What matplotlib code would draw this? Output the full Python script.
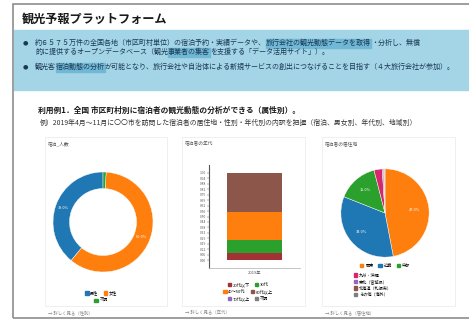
import matplotlib
matplotlib.use("Agg")
import matplotlib.pyplot as plt
from matplotlib.patches import Rectangle, Patch
import numpy as np

plt.rcParams['font.family'] = ['Noto Sans CJK JP', 'DejaVu Sans']

# ---------------- data ----------------
title = "観光予報プラットフォーム"
bullet1_line1 = [("約６５７５万件の全国各地（市区町村単位）の宿泊予約・実績データや、", False),
                 ("旅行会社の観光動態データを取得", True),
                 ("・分析し、無償", False)]
bullet1_line2 = [("的に提供するオープンデータベース（観光", False),
                 ("事業者の集客", True),
                 ("を支援する「データ活用サイト」）。", False)]
bullet2_line = [("観光客", False),
                ("宿泊動態の分析", True),
                ("が可能となり、旅行会社や自治体による新規サービスの創出につなげることを目指す（４大旅行会社が参加）。", False)]
heading = "利用例1．全国 市区町村別に宿泊者の観光動態の分析ができる（属性別）。"
subtitle = "例）2019年4月～11月に〇〇市を訪問した宿泊者の居住地・性別・年代別の内訳を把握（宿泊、男女別、年代別、地域別）"

panel_titles = ["宿泊_人数", "宿泊者の年代", "宿泊者の居住地"]
panel_links = ["→ 詳しく見る（性別）", "→ 詳しく見る（年代）", "→ 詳しく見る（居住地）"]

# donut: share by gender
donut_labels = ["男性", "女性", "不明"]
donut_values = [39, 60, 1]
donut_colors = ["#1f77b4", "#ff7f0e", "#2ca02c"]

# stacked bar: share by age group (bottom to top)
bar_category = "2019年"
age_labels = ["20代以下", "30代", "40～50代", "60代以上", "70代以上", "不明"]
age_values = [0.08, 0.15, 0.32, 0.45, 0.0, 0.0]
age_colors = ["#a33236", "#2ca02c", "#ff7f0e", "#8c564b", "#9467bd", "#7f7f7f"]
bar_ticks = np.linspace(0, 1, 17)

# pie: share by residence (clockwise from top)
pie_labels = ["関東", "近畿", "中部", "九州・沖縄", "東北（宮城県）", "北海道（札幌市）", "その他（海外）"]
pie_values = [47, 34, 15, 3, 0.5, 0.3, 0.2]
pie_colors = ["#ff7f0e", "#1f77b4", "#2ca02c", "#d6276a", "#9467bd", "#8c564b", "#7f7f7f"]

# ---------------- figure ----------------
W, H = 469, 322
fig = plt.figure(figsize=(W / 100, H / 100), dpi=100)
fig.patch.set_facecolor("white")
renderer = fig.canvas.get_renderer()


def fx(x):
    return x / W


def fy(y):
    return 1 - y / H


def px_axes(x0, y0, x1, y1):
    return fig.add_axes([fx(x0), fy(y1), (x1 - x0) / W, (y1 - y0) / H])


def add_rect(x0, y0, x1, y1, **kw):
    r = Rectangle((fx(x0), fy(y1)), (x1 - x0) / W, (y1 - y0) / H,
                  transform=fig.transFigure, **kw)
    fig.patches.append(r)
    return r


def fitted_size(s, width, weight="normal"):
    t = fig.text(0, 0, s, fontsize=10, fontweight=weight)
    w = t.get_window_extent(renderer).width
    t.remove()
    return 10 * width / w


def rich_line(x, y, parts, size, color, hl_color):
    for s, hl in parts:
        t = fig.text(fx(x), fy(y), s, fontsize=size, color=color,
                     va="center", ha="left", zorder=3)
        w = t.get_window_extent(renderer).width
        if hl:
            add_rect(x, y - 4.5, x + w, y + 4.5, color=hl_color, zorder=1)
        x += w


# outer frame and blue band
add_rect(13, 4, 480, 318, fill=False, edgecolor="#8d8d8d", linewidth=1.2, zorder=5)
add_rect(13.5, 30, 469, 90, color="#a3d5e7", zorder=0)

# title
fig.text(fx(22), fy(19), title, fontweight="bold", color="#1a1a1a",
         fontsize=fitted_size(title, 146, "bold"), va="center", ha="left")

# bullets
txt_color = "#1b3954"
plain2 = "".join(s for s, _ in bullet2_line)
bsize = fitted_size(plain2, 422)
for by in (43, 67):
    fig.text(fx(25), fy(by), "●", fontsize=4.5, color=txt_color, va="center", ha="center",
             family="DejaVu Sans")
rich_line(35, 43, bullet1_line1, bsize, txt_color, "#70b8d5")
rich_line(35, 52, bullet1_line2, bsize, txt_color, "#70b8d5")
rich_line(35, 67, bullet2_line, bsize, txt_color, "#70b8d5")

# heading and subtitle
fig.text(fx(38), fy(110), heading, fontweight="bold", color="#1a1a1a",
         fontsize=fitted_size(heading, 262, "bold"), va="center", ha="left")
fig.text(fx(40), fy(123), subtitle, color="#333333",
         fontsize=fitted_size(subtitle, 375), va="center", ha="left")

# chart panels
panels = [(45, 167), (182, 305), (322, 455)]
for (x0, x1), ttl, link in zip(panels, panel_titles, panel_links):
    add_rect(x0, 137, x1, 306, fill=False, edgecolor="#ececec", linewidth=0.6, zorder=0)
    fig.text(fx(x0 + 3), fy(144), ttl, fontsize=3.4, color="#555555", va="center")
    fig.text(fx(x0 + 3), fy(313), link, fontsize=3.2, color="#8a8a8a", va="center")

# ---- donut ----
ax1 = px_axes(48, 167, 158, 277)
ax1.pie(donut_values, colors=donut_colors, startangle=90, counterclock=True, radius=1,
        wedgeprops=dict(width=0.33, edgecolor="white", linewidth=0.3),
        autopct=lambda p: f"{p:.1f}%" if p > 5 else "", pctdistance=0.835,
        textprops=dict(color="white", fontsize=2.8))
ax1.set_xlim(-1.1, 1.1)
ax1.set_ylim(-1.1, 1.1)
ax1.axis("off")

dh = [Patch(color=c) for c in donut_colors]
fig.legend(dh[:2], donut_labels[:2], loc="center", bbox_to_anchor=(fx(101), fy(293)),
           ncol=2, fontsize=3, frameon=False, handlelength=0.8, handleheight=0.8,
           handletextpad=0.4, columnspacing=1.2, borderpad=0)
fig.legend(dh[2:], donut_labels[2:], loc="center", bbox_to_anchor=(fx(101), fy(301)),
           ncol=1, fontsize=3, frameon=False, handlelength=0.8, handleheight=0.8,
           handletextpad=0.4, borderpad=0)

# ---- stacked bar ----
ax2 = px_axes(209, 165, 300, 268)
bottom = 0.0
for v, c in zip(age_values, age_colors):
    ax2.bar(0, v, bottom=bottom, width=0.6, color=c, edgecolor="none")
    bottom += v
ax2.set_xlim(-0.5, 0.5)
ax2.set_ylim(-0.09, 1.09)
ax2.set_yticks(bar_ticks)
ax2.set_yticklabels([f"{t:.2f}" for t in bar_ticks])
ax2.set_xticks([0])
ax2.set_xticklabels([bar_category])
ax2.tick_params(axis="y", labelsize=2.4, length=1.2, width=0.3, pad=1, colors="#555555")
ax2.tick_params(axis="x", labelsize=3, length=0, pad=2, colors="#555555")
for s in ("top", "right"):
    ax2.spines[s].set_visible(False)
ax2.spines["left"].set_color("#555555")
ax2.spines["left"].set_linewidth(0.8)
ax2.spines["bottom"].set_color("#bbbbbb")
ax2.spines["bottom"].set_linewidth(0.6)
ax2.set_facecolor("none")

bh = [Patch(color=c) for c in age_colors]
for i, yy in enumerate((285, 292, 299)):
    fig.legend(bh[2 * i:2 * i + 2], age_labels[2 * i:2 * i + 2], loc="center",
               bbox_to_anchor=(fx(248), fy(yy)), ncol=2, fontsize=3, frameon=False,
               handlelength=0.8, handleheight=0.8, handletextpad=0.4,
               columnspacing=1.2, borderpad=0)

# ---- pie ----
ax3 = px_axes(336, 164, 434, 262)
ax3.pie(pie_values, colors=pie_colors, startangle=90, counterclock=False, radius=1,
        wedgeprops=dict(edgecolor="white", linewidth=0.3),
        autopct=lambda p: f"{p:.1f}%" if p > 10 else "", pctdistance=0.68,
        textprops=dict(color="white", fontsize=2.8))
ax3.set_xlim(-1.11, 1.11)
ax3.set_ylim(-1.11, 1.11)
ax3.axis("off")

ph = [Patch(color=c) for c in pie_colors]
fig.legend(ph[:3], pie_labels[:3], loc="center", bbox_to_anchor=(fx(385), fy(266)),
           ncol=3, fontsize=3, frameon=False, handlelength=0.8, handleheight=0.8,
           handletextpad=0.4, columnspacing=1.2, borderpad=0)
fig.legend(ph[3:], pie_labels[3:], loc="upper left", bbox_to_anchor=(fx(352), fy(271)),
           ncol=1, fontsize=3, frameon=False, handlelength=0.8, handleheight=0.8,
           handletextpad=0.4, labelspacing=0.45, borderpad=0)

fig.savefig("out.png", dpi=100)
